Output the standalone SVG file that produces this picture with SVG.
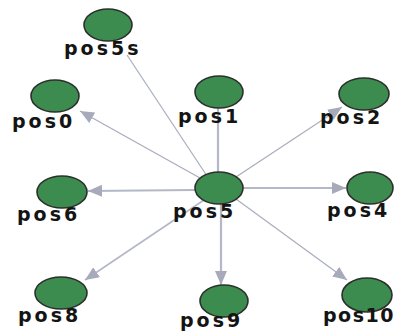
<svg xmlns="http://www.w3.org/2000/svg" width="395" height="331" viewBox="0 0 395 331">
  <defs>
    <marker id="arrow" markerUnits="userSpaceOnUse" markerWidth="15" markerHeight="13" refX="14" refY="6" orient="auto">
      <path d="M0,0 L14,6 L0,12 Z" fill="#a6aaba"/>
    </marker>
  </defs>
  <style>
    .edge { stroke: #b3b7c7; fill: none; }
    .thin { stroke-width: 1.2; stroke: #a9adbc; }
    .thick { stroke-width: 2.2; }
    .node ellipse { fill: #3d8c4f; stroke: #2c2f2c; stroke-width: 1.6; }
    .node text { font-family: "DejaVu Sans", Verdana, sans-serif; font-weight: bold; font-size: 19px; letter-spacing: 3px; fill: #141414; }
  </style>
  <rect width="395" height="331" fill="#ffffff"/>

  <!-- connectors -->
  <g id="edges">
    <line class="edge thin" x1="127" y1="55" x2="207" y2="176"/>
    <line class="edge thick" x1="218" y1="108" x2="218" y2="174"/>
    <line class="edge thin" x1="200" y1="178" x2="80" y2="111" marker-end="url(#arrow)"/>
    <line class="edge thin" x1="236" y1="177" x2="342" y2="107" marker-end="url(#arrow)"/>
    <line class="edge thick" x1="195" y1="190" x2="88" y2="191" marker-end="url(#arrow)"/>
    <line class="edge thick" x1="243" y1="188" x2="346" y2="188" marker-end="url(#arrow)"/>
    <line class="edge thick" x1="204" y1="200" x2="85" y2="280" marker-end="url(#arrow)" style="stroke-width:1.6"/>
    <line class="edge thick" x1="221" y1="203" x2="221" y2="285" marker-end="url(#arrow)"/>
    <line class="edge thin" x1="236" y1="199" x2="347" y2="280" marker-end="url(#arrow)"/>
  </g>

  <!-- nodes -->
  <g id="pos5s" class="node">
    <ellipse cx="108" cy="25" rx="24" ry="16"/>
    <text x="64" y="55">pos5s</text>
  </g>
  <g id="pos0" class="node">
    <ellipse cx="55" cy="96" rx="24" ry="16"/>
    <text x="12" y="128">pos0</text>
  </g>
  <g id="pos1" class="node">
    <ellipse cx="219" cy="92" rx="24" ry="16"/>
    <text x="178" y="123">pos1</text>
  </g>
  <g id="pos2" class="node">
    <ellipse cx="364" cy="94" rx="25" ry="16"/>
    <text x="320" y="124">pos2</text>
  </g>
  <g id="pos6" class="node">
    <ellipse cx="62" cy="192" rx="25" ry="16"/>
    <text x="17" y="221">pos6</text>
  </g>
  <g id="pos5" class="node">
    <ellipse cx="219" cy="188" rx="24" ry="16"/>
    <text x="173" y="218">pos5</text>
  </g>
  <g id="pos4" class="node">
    <ellipse cx="370" cy="188" rx="23" ry="16"/>
    <text x="327" y="217">pos4</text>
  </g>
  <g id="pos8" class="node">
    <ellipse cx="61" cy="293" rx="26" ry="16"/>
    <text x="18" y="322">pos8</text>
  </g>
  <g id="pos9" class="node">
    <ellipse cx="224" cy="301" rx="24" ry="16"/>
    <text x="180" y="327">pos9</text>
  </g>
  <g id="pos10" class="node">
    <ellipse cx="367" cy="295" rx="25" ry="17"/>
    <text x="323" y="322" style="letter-spacing:1.5px">pos10</text>
  </g>
</svg>
